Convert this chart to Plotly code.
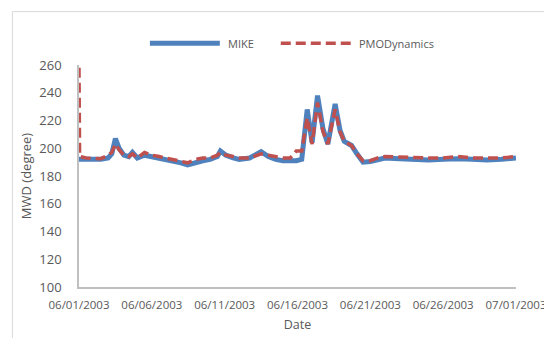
import plotly.graph_objects as go

times = [
    "2003-06-01 00:00", "2003-06-01 01:00", "2003-06-01 12:00", "2003-06-02 00:00",
    "2003-06-02 12:00", "2003-06-03 00:00", "2003-06-03 06:00", "2003-06-03 12:00",
    "2003-06-03 18:00", "2003-06-04 02:00", "2003-06-04 10:00", "2003-06-04 16:00",
    "2003-06-05 00:00", "2003-06-05 12:00", "2003-06-06 00:00", "2003-06-06 12:00",
    "2003-06-07 00:00", "2003-06-07 12:00", "2003-06-08 00:00", "2003-06-08 11:00",
    "2003-06-09 00:00", "2003-06-09 12:00", "2003-06-10 00:00", "2003-06-10 12:00",
    "2003-06-10 17:00", "2003-06-11 02:00", "2003-06-11 14:00", "2003-06-12 00:00",
    "2003-06-12 17:00", "2003-06-13 12:00", "2003-06-14 00:00", "2003-06-14 12:00",
    "2003-06-15 00:00", "2003-06-15 12:00", "2003-06-15 22:00", "2003-06-16 07:00",
    "2003-06-16 16:00", "2003-06-17 00:00", "2003-06-17 09:00", "2003-06-17 18:00",
    "2003-06-18 02:00", "2003-06-18 14:00", "2003-06-18 22:00", "2003-06-19 05:00",
    "2003-06-19 17:00", "2003-06-20 02:00", "2003-06-20 12:00", "2003-06-21 00:00",
    "2003-06-21 12:00", "2003-06-22 00:00", "2003-06-23 00:00", "2003-06-24 00:00",
    "2003-06-25 00:00", "2003-06-26 00:00", "2003-06-27 00:00", "2003-06-28 00:00",
    "2003-06-29 00:00", "2003-06-30 00:00", "2003-07-01 00:00",
]

mike = [
    192, 192, 192, 191.5,
    192, 193, 196, 207,
    200, 195, 194, 197,
    193, 195, 194, 193,
    192, 191, 189.5, 188,
    190, 191, 192, 194,
    198, 195, 193, 192,
    193, 197.5, 194, 192,
    191, 191, 191, 192,
    228, 204, 238, 214,
    203, 232, 213, 205,
    202, 196, 190, 190.5,
    192, 193, 192.5, 192,
    191.5, 192, 192.5, 192,
    191.5, 192, 193,
]

pmo = [
    258, 194, 193, 193,
    192.5, 195, 197, 203,
    199, 195, 194, 196,
    193, 197, 195, 194,
    193, 192, 191, 189.5,
    192, 193, 193, 195,
    197, 195, 194, 193,
    193, 196, 195, 194,
    193, 193, 198, 198,
    222, 203, 233, 212,
    203, 228, 212, 205,
    202, 196, 191, 191,
    193, 194, 193.5, 193,
    193, 193, 194, 193,
    193, 193, 194,
]

tick_vals = ["2003-06-01", "2003-06-06", "2003-06-11", "2003-06-16",
             "2003-06-21", "2003-06-26", "2003-07-01"]
tick_text = ["06/01/2003", "06/06/2003", "06/11/2003", "06/16/2003",
             "06/21/2003", "06/26/2003", "07/01/2003"]
y_ticks = [100, 120, 140, 160, 180, 200, 220, 240, 260]

BLUE = "#4F81BD"
RED = "#C0504D"
TXT = "#595959"
FONT = "Open Sans"

fig = go.Figure()
fig.add_trace(go.Scatter(x=times, y=mike, mode="lines", name="MIKE",
                         line=dict(color=BLUE, width=5), showlegend=False))
fig.add_trace(go.Scatter(x=times, y=pmo, mode="lines", name="PMODynamics",
                         line=dict(color=RED, width=3.5, dash="10px,5px"),
                         showlegend=False))

# page has an 8px body margin, so figure coords = page coords - 8
OFF = 8
W, H = 544, 330
L = 79 - OFF
T = 65 - OFF
R = W - (516.5 - OFF)
B = H - (286.7 - OFF)
pw, ph = W - L - R, H - T - B

def px(x):
    return (x - OFF - L) / pw

def py(y):
    return (H - B - (y - OFF)) / ph

shapes = [
    dict(type="rect", xref="paper", yref="paper",
         x0=px(12.3), x1=px(700), y0=py(500), y1=py(11.7),
         line=dict(color="#D9D9D9", width=1), fillcolor="rgba(0,0,0,0)", layer="below"),
    dict(type="line", xref="paper", yref="paper",
         x0=px(150), x1=px(220), y0=py(43.3), y1=py(43.3),
         line=dict(color=BLUE, width=5)),
    dict(type="line", xref="paper", yref="paper",
         x0=px(281), x1=px(351), y0=py(43.3), y1=py(43.3),
         line=dict(color=RED, width=3.5, dash="10px,5px")),
]
annotations = [
    dict(text="MIKE", xref="paper", yref="paper", x=px(226), y=py(43.3),
         xanchor="left", yanchor="middle", showarrow=False,
         font=dict(family=FONT, size=11, color=TXT)),
    dict(text="PMODynamics", xref="paper", yref="paper", x=px(357), y=py(43.3),
         xanchor="left", yanchor="middle", showarrow=False,
         font=dict(family=FONT, size=11, color=TXT)),
]

fig.update_layout(
    width=W, height=H,
    margin=dict(l=L, r=R, t=T, b=B, pad=0, autoexpand=False),
    paper_bgcolor="white", plot_bgcolor="white",
    font=dict(family=FONT, color=TXT),
    shapes=shapes, annotations=annotations,
    xaxis=dict(
        type="date", range=["2003-06-01", "2003-07-01"],
        tickvals=tick_vals, ticktext=tick_text,
        showgrid=False, zeroline=False, automargin=False,
        showline=True, linecolor="#BFBFBF", linewidth=1.5,
        ticks="outside", ticklen=6, tickcolor="rgba(0,0,0,0)",
        tickfont=dict(family=FONT, size=11.5, color=TXT),
        title=dict(text="Date", font=dict(family=FONT, size=12.5, color=TXT), standoff=10),
    ),
    yaxis=dict(
        range=[100, 260], tickvals=y_ticks,
        showgrid=False, zeroline=False, automargin=False,
        showline=True, linecolor="#BFBFBF", linewidth=1.5,
        ticks="outside", ticklen=13, tickcolor="rgba(0,0,0,0)",
        tickfont=dict(family=FONT, size=13, color=TXT),
        title=dict(text="MWD (degree)", font=dict(family=FONT, size=13, color=TXT), standoff=5),
    ),
)

fig.write_html("out.html")
